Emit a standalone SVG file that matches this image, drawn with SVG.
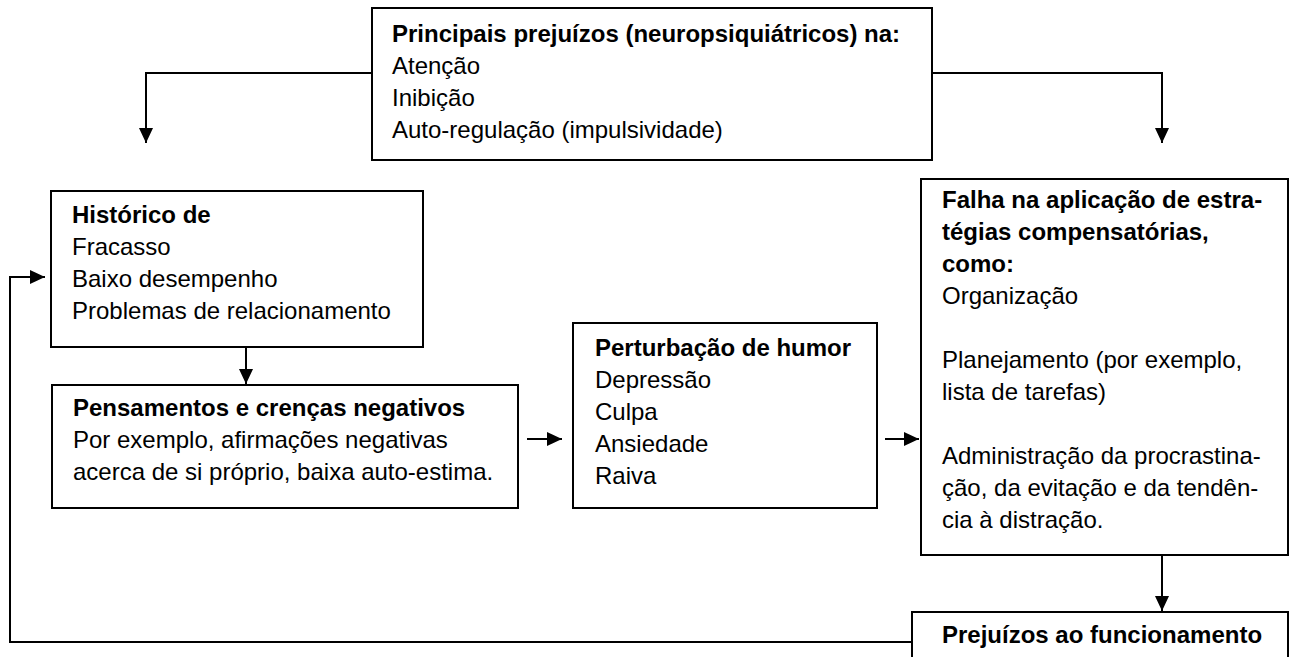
<svg xmlns="http://www.w3.org/2000/svg" width="1294" height="657" viewBox="0 0 1294 657">
  <style>
    .box { fill: #fff; stroke: #000; stroke-width: 2; }
    .wire { fill: none; stroke: #000; stroke-width: 2; }
    text { font-family: "Liberation Sans", Arial, sans-serif; font-size: 24px; fill: #000; }
    .b { font-weight: bold; }
  </style>
  <defs>
    <marker id="arrow" markerUnits="userSpaceOnUse" markerWidth="16" markerHeight="16" refX="15" refY="7" orient="auto">
      <path d="M0,0 L15,7 L0,14 Z" fill="#000"/>
    </marker>
  </defs>

  <rect width="1294" height="657" fill="#fff"/>

  <g id="connectors">
    <polyline class="wire" points="372,73 146,73 146,143" marker-end="url(#arrow)"/>
    <polyline class="wire" points="932,73 1162,73 1162,143" marker-end="url(#arrow)"/>
    <line class="wire" x1="246" y1="347" x2="246" y2="384" marker-end="url(#arrow)"/>
    <line class="wire" x1="527" y1="439" x2="562" y2="439" marker-end="url(#arrow)"/>
    <line class="wire" x1="885" y1="439" x2="919" y2="439" marker-end="url(#arrow)"/>
    <line class="wire" x1="1162" y1="555" x2="1162" y2="611" marker-end="url(#arrow)"/>
    <polyline class="wire" points="912,642 10,642 10,277 45,277" marker-end="url(#arrow)"/>
  </g>

  <g id="node-prejuizos-principais">
    <rect class="box" x="372" y="8" width="560" height="152"/>
    <text x="392" y="42" class="b">Principais prejuízos (neuropsiquiátricos) na:</text>
    <text x="392" y="74">Atenção</text>
    <text x="392" y="106">Inibição</text>
    <text x="392" y="138">Auto-regulação (impulsividade)</text>
  </g>

  <g id="node-historico">
    <rect class="box" x="51" y="191" width="372" height="156"/>
    <text x="72" y="223" class="b">Histórico de</text>
    <text x="72" y="255">Fracasso</text>
    <text x="72" y="287">Baixo desempenho</text>
    <text x="72" y="319">Problemas de relacionamento</text>
  </g>

  <g id="node-pensamentos">
    <rect class="box" x="52" y="385" width="466" height="123"/>
    <text x="73" y="416" class="b">Pensamentos e crenças negativos</text>
    <text x="73" y="448">Por exemplo, afirmações negativas</text>
    <text x="73" y="480">acerca de si próprio, baixa auto-estima.</text>
  </g>

  <g id="node-humor">
    <rect class="box" x="573" y="323" width="304" height="185"/>
    <text x="595" y="356" class="b">Perturbação de humor</text>
    <text x="595" y="388">Depressão</text>
    <text x="595" y="420">Culpa</text>
    <text x="595" y="452">Ansiedade</text>
    <text x="595" y="484">Raiva</text>
  </g>

  <g id="node-falha">
    <rect class="box" x="921" y="179" width="367" height="376"/>
    <text x="942" y="208" class="b">Falha na aplicação de estra-</text>
    <text x="942" y="240" class="b">tégias compensatórias,</text>
    <text x="942" y="272" class="b">como:</text>
    <text x="942" y="304">Organização</text>
    <text x="942" y="368">Planejamento (por exemplo,</text>
    <text x="942" y="400">lista de tarefas)</text>
    <text x="942" y="464">Administração da procrastina-</text>
    <text x="942" y="496">ção, da evitação e da tendên-</text>
    <text x="942" y="528">cia à distração.</text>
  </g>

  <g id="node-funcionamento">
    <rect class="box" x="912" y="612" width="376" height="60"/>
    <text x="942" y="643" class="b">Prejuízos ao funcionamento</text>
  </g>
</svg>
